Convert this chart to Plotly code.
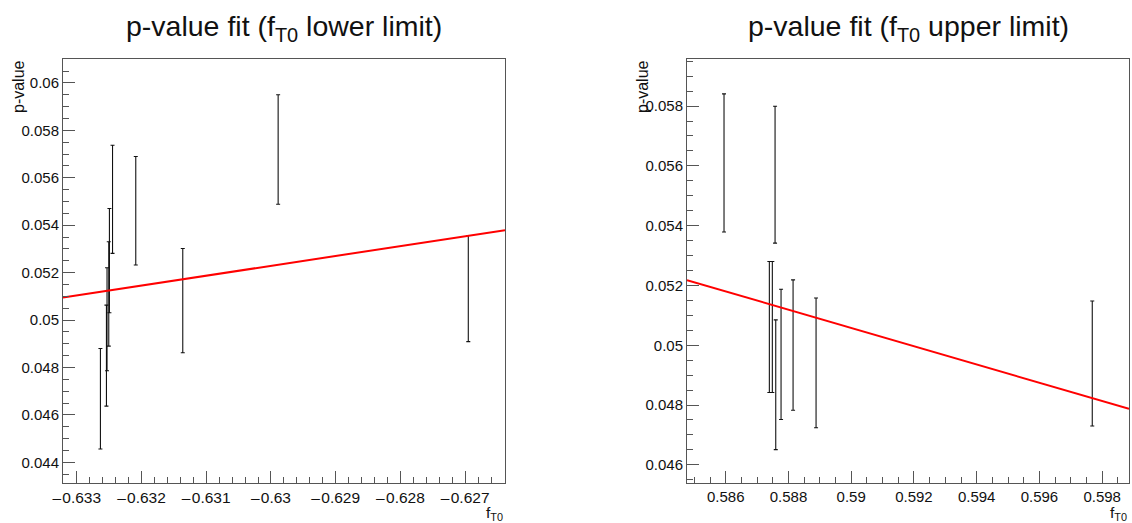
import plotly.graph_objects as go
from plotly.subplots import make_subplots

# ---------------- data: lower limit ----------------
x_lower = [-0.632634, -0.632541, -0.632532, -0.632495, -0.632505, -0.632447,
           -0.632088, -0.631362, -0.629889, -0.626952]
y_lower = [0.046682, 0.048502, 0.050034, 0.052507, 0.051102, 0.055094,
           0.054610, 0.050820, 0.057193, 0.051330]
err_lower = [0.00212, 0.00213, 0.00217, 0.00220, 0.00220, 0.00228,
             0.00229, 0.00220, 0.00231, 0.00224]
fit_x_lower = [-0.633212, -0.626385]
fit_y_lower = [0.050949, 0.053794]
xticks_lower = [-0.633, -0.632, -0.631, -0.630, -0.629, -0.628, -0.627]

# ---------------- data: upper limit ----------------
x_upper = [0.585946, 0.587573, 0.587391, 0.587486, 0.587595, 0.587764,
           0.588147, 0.588880, 0.597684]
y_upper = [0.056100, 0.055705, 0.050610, 0.050610, 0.048680, 0.049694,
           0.050007, 0.049410, 0.049390]
err_upper = [0.00231, 0.00229, 0.00219, 0.00219, 0.00217, 0.00218,
             0.00218, 0.00217, 0.00209]
fit_x_upper = [0.584766, 0.598855]
fit_y_upper = [0.052179, 0.047872]

titles = ["p-value fit (f<sub>T0</sub> lower limit)",
          "p-value fit (f<sub>T0</sub> upper limit)"]

W, H = 1132, 523
FONT = "Liberation Sans, Arial, Helvetica, sans-serif"

fig = make_subplots(rows=1, cols=2)

def add_panel(col, xs, ys, es, fx, fy):
    fig.add_trace(go.Scatter(
        x=xs, y=ys, mode="markers",
        marker=dict(size=1, color="rgba(0,0,0,0)"),
        error_y=dict(type="data", array=es, visible=True,
                     color="#111111", thickness=1.1, width=2),
        showlegend=False, hoverinfo="skip"), row=1, col=col)
    fig.add_trace(go.Scatter(
        x=fx, y=fy, mode="lines",
        line=dict(color="#ff0000", width=2),
        showlegend=False, hoverinfo="skip"), row=1, col=col)

add_panel(1, x_lower, y_lower, err_lower, fit_x_lower, fit_y_lower)
add_panel(2, x_upper, y_upper, err_upper, fit_x_upper, fit_y_upper)

# ROOT-style wide minus sign for the negative tick labels
xticktext_lower = ["\u2013\u200a" + f"{abs(v):g}" for v in xticks_lower]

# pixel geometry
L1, R1 = 63, 505
L2, R2 = 687, 1129
TOP, BOT = 58.5, 483.3

def px(v):
    return v / W

def py(v):
    return 1 - v / H

axis_common = dict(
    showgrid=False, zeroline=False, showline=True, linecolor="#555555",
    linewidth=1, mirror=True, ticks="inside", ticklen=12, tickwidth=1,
    automargin=False,
    tickcolor="#555555", tickfont=dict(family=FONT, size=15, color="#111111"),
)

fig.update_xaxes(axis_common)
fig.update_yaxes(axis_common)

fig.update_layout(
    xaxis=dict(domain=[px(L1), px(R1)], range=[-0.633212, -0.626385],
               tickmode="array", tickvals=xticks_lower,
               ticktext=xticktext_lower,
               tickfont=dict(family=FONT, size=15.5, color="#111111"),
               minor=dict(dtick=0.0002, tick0=0, ticks="inside", ticklen=6,
                          tickcolor="#555555", showgrid=False)),
    yaxis=dict(domain=[py(BOT), py(TOP)], range=[0.043115, 0.061033],
               dtick=0.002, tick0=0,
               minor=dict(dtick=0.0005, ticks="inside", ticklen=6,
                          tickcolor="#555555", showgrid=False)),
    xaxis2=dict(domain=[px(L2), px(R2)], range=[0.584766, 0.598855],
                dtick=0.002, tick0=0,
                minor=dict(dtick=0.0005, ticks="inside", ticklen=6,
                           tickcolor="#555555", showgrid=False)),
    yaxis2=dict(domain=[py(BOT), py(TOP)], range=[0.045382, 0.059592],
                dtick=0.002, tick0=0,
                minor=dict(dtick=0.0005, ticks="inside", ticklen=6,
                           tickcolor="#555555", showgrid=False)),
    width=W, height=H,
    margin=dict(l=0, r=0, t=0, b=0, autoexpand=False),
    paper_bgcolor="white", plot_bgcolor="white",
    font=dict(family=FONT, color="#111111"),
)

ann = []
for i, (l, r) in enumerate([(L1, R1), (L2, R2)]):
    ann.append(dict(text=titles[i], x=px((l + r) / 2), y=py(28),
                    xref="paper", yref="paper", xanchor="center",
                    yanchor="middle", showarrow=False,
                    font=dict(family=FONT, size=28.5, color="#111111")))
    ann.append(dict(text="p-value", x=px(l - 45), y=py(TOP),
                    xref="paper", yref="paper", xanchor="center",
                    yanchor="top", textangle=-90, showarrow=False,
                    font=dict(family=FONT, size=16, color="#111111")))
    ann.append(dict(text="f<sub>T0</sub>", x=px(r), y=py(502),
                    xref="paper", yref="paper", xanchor="right",
                    yanchor="top", showarrow=False,
                    font=dict(family=FONT, size=15.5, color="#111111")))
fig.update_layout(annotations=ann)

fig.write_html(
    "out.html",
    config={"displayModeBar": False},
    post_script="document.body.style.margin='0';"
                "document.body.style.overflow='hidden';",
)
